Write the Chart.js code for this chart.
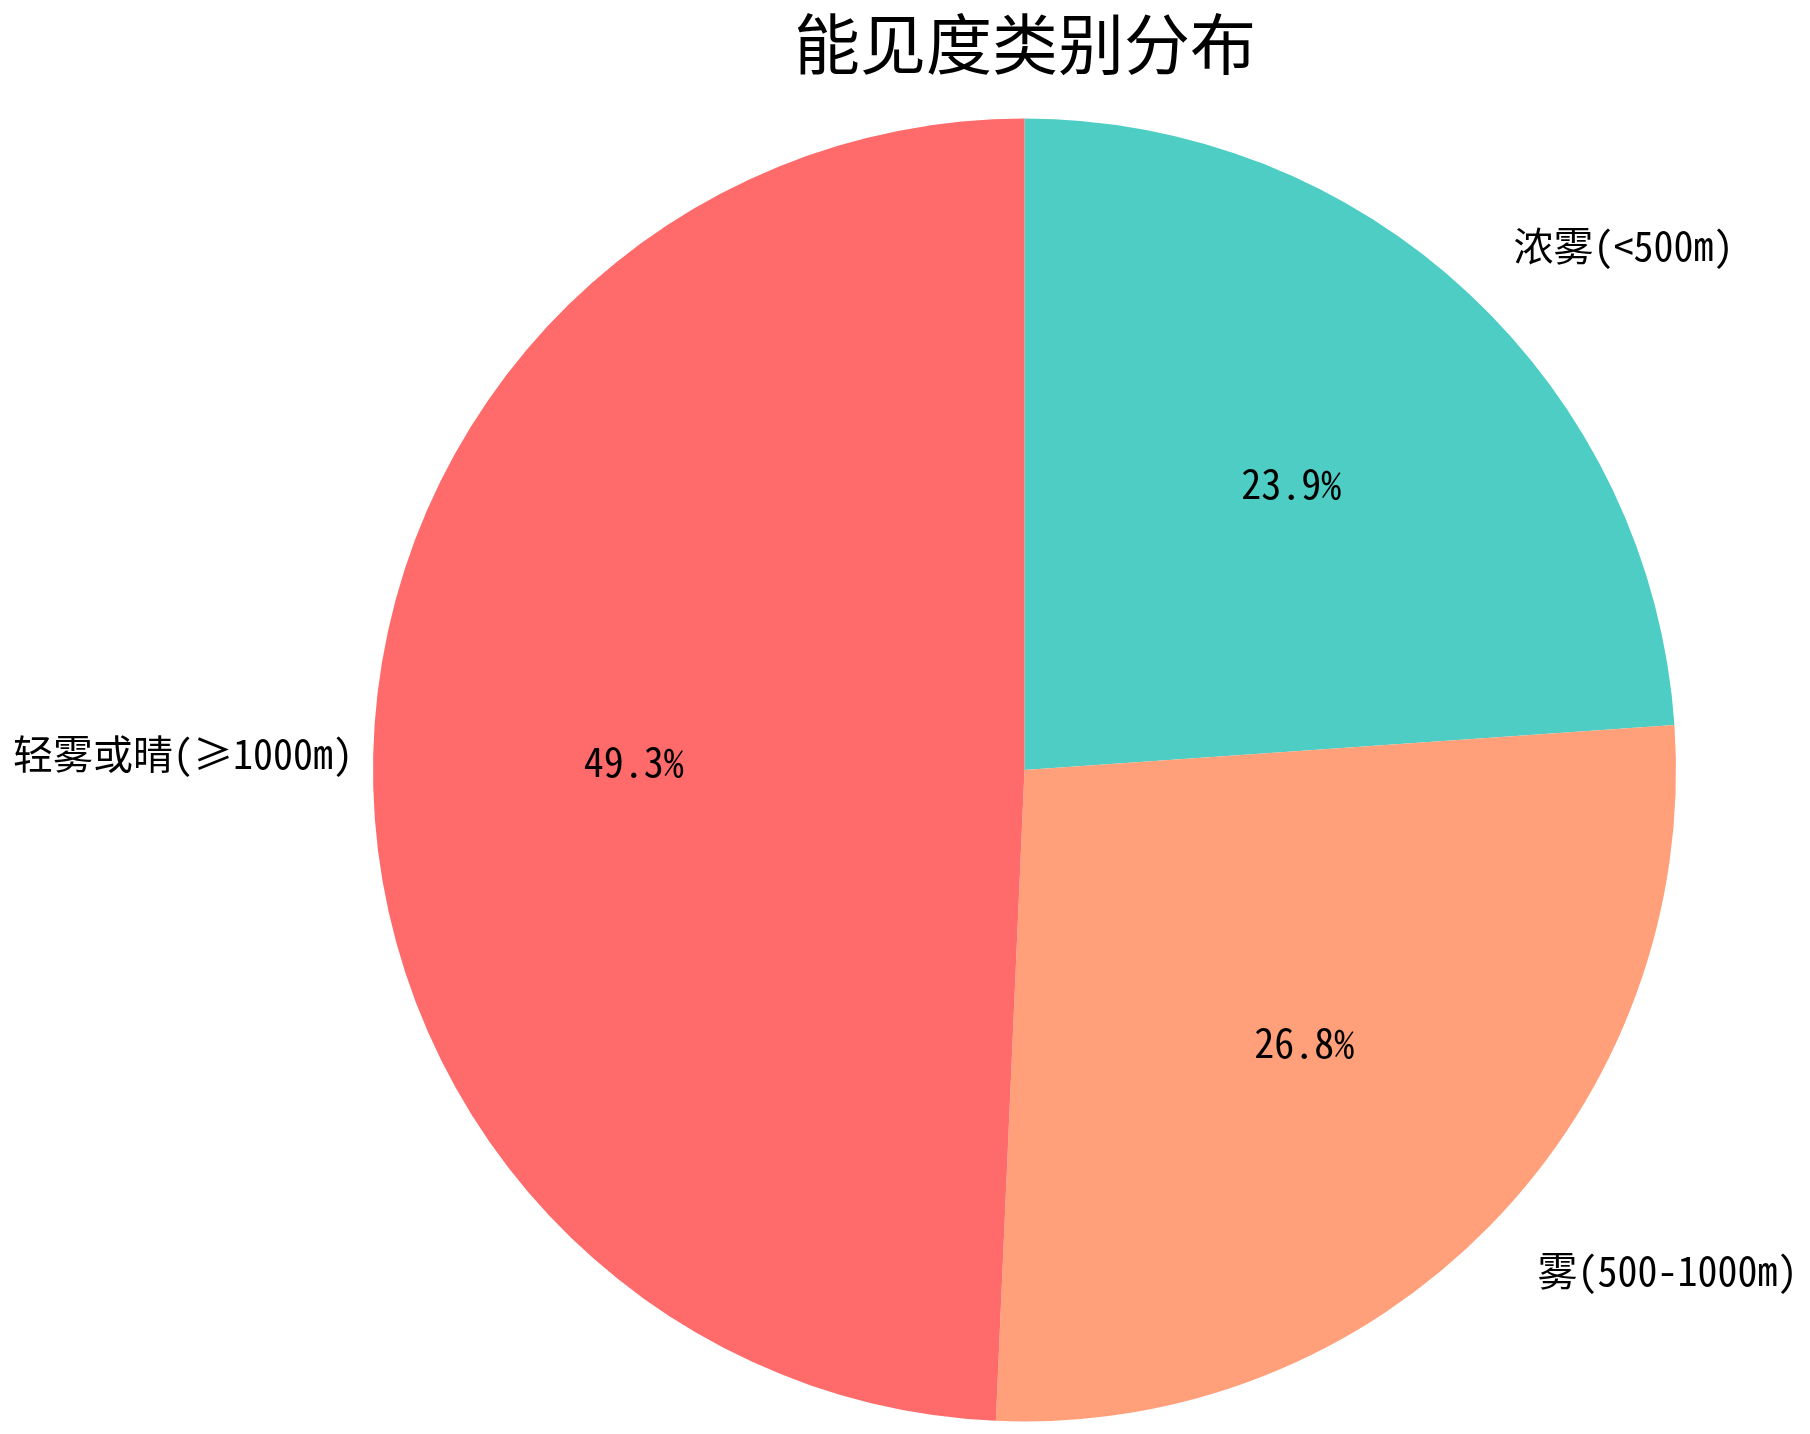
<!DOCTYPE html>
<html>
<head>
<meta charset="utf-8">
<script src="https://cdn.jsdelivr.net/npm/chart.js@4"></script>
<style>
  html, body { margin: 0; padding: 0; background: #fff; }
  #wrap { width: 1810px; height: 1434px; }
</style>
</head>
<body>
<div id="wrap"><canvas id="pie" width="1810" height="1434"></canvas></div>
<script>
const labels = ['浓雾(<500m)', '雾(500-1000m)', '轻雾或晴(≥1000m)'];
const values = [23.9, 26.8, 49.3];
const colors = ['#4ECDC4', '#FFA07A', '#FF6B6B'];
const titleText = '能见度类别分布';

const FONT = '"Noto Sans Mono CJK SC", "Noto Sans CJK SC", sans-serif';
const LEFT_SHIFT = 45; // left-side labels sit a bit closer to the pie in the original

// draws the title, the outside labels and the percentages like matplotlib does
const pieText = {
  id: 'pieText',
  afterDraw(chart) {
    const ctx = chart.ctx;
    const meta = chart.getDatasetMeta(0);
    const total = values.reduce((a, b) => a + b, 0);
    ctx.save();
    ctx.fillStyle = '#000';
    ctx.textBaseline = 'middle';

    ctx.font = '66px ' + FONT;
    ctx.textAlign = 'center';
    ctx.fillText(titleText, 1025, 44);

    ctx.font = '40px ' + FONT;
    meta.data.forEach((arc, i) => {
      const mid = (arc.startAngle + arc.endAngle) / 2;
      const r = arc.outerRadius;
      const c = Math.cos(mid), s = Math.sin(mid);

      ctx.textAlign = 'center';
      ctx.fillText((values[i] / total * 100).toFixed(1) + '%', arc.x + c * r * 0.6, arc.y + s * r * 0.6);

      let lx = arc.x + c * r * 1.1;
      if (c > 0) {
        ctx.textAlign = 'left';
      } else {
        ctx.textAlign = 'right';
        lx += LEFT_SHIFT;
      }
      ctx.fillText(labels[i], lx, arc.y + s * r * 1.1);
    });
    ctx.restore();
  }
};

new Chart(document.getElementById('pie'), {
  type: 'pie',
  data: {
    labels: labels,
    datasets: [{
      data: values,
      backgroundColor: colors,
      borderWidth: 0
    }]
  },
  options: {
    responsive: false,
    animation: false,
    layout: { padding: { top: 118, bottom: 12, left: 373, right: 134 } },
    plugins: {
      legend: { display: false },
      tooltip: { enabled: false },
      title: { display: false }
    }
  },
  plugins: [pieText]
});
</script>
</body>
</html>
